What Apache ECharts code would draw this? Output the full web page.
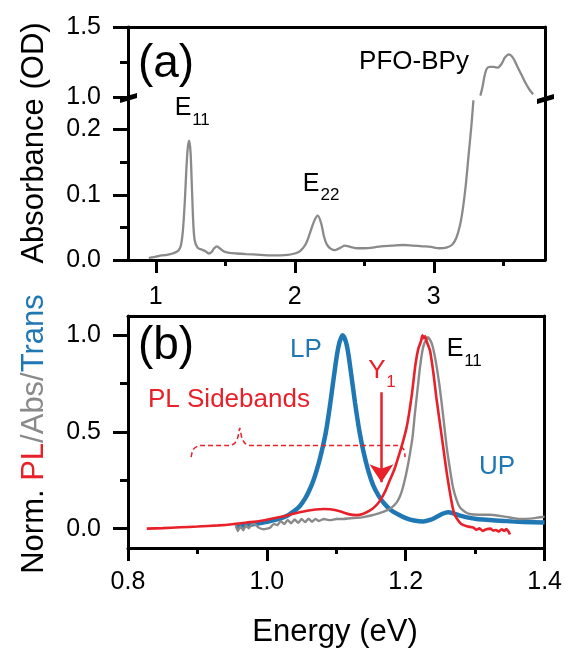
<!DOCTYPE html>
<html>
<head>
<meta charset="utf-8">
<script src="https://cdn.jsdelivr.net/npm/echarts@6/dist/echarts.min.js"></script>
<style>
  html, body { margin: 0; padding: 0; background: #fff; }
  #chart { width: 565px; height: 648px; }
</style>
</head>
<body>
<div id="chart"></div>
<script>
// ---------- Panel (a): absorbance of the film (broken y axis) ----------
const absEnergyLow = [0.95, 0.97, 1.00, 1.04, 1.08, 1.12, 1.16, 1.18, 1.195, 1.21, 1.22, 1.23, 1.24, 1.25, 1.26, 1.27, 1.28, 1.30, 1.33, 1.36, 1.38, 1.40, 1.42, 1.44, 1.46, 1.49, 1.53, 1.58, 1.65, 1.75, 1.85, 1.95, 2.00, 2.04, 2.08, 2.11, 2.14, 2.165, 2.19, 2.21, 2.23, 2.26, 2.29, 2.33, 2.36, 2.40, 2.45, 2.50, 2.56, 2.62, 2.70, 2.78, 2.85, 2.92, 2.98, 3.04, 3.09, 3.13, 3.16, 3.19, 3.21, 3.23, 3.25, 3.27, 3.285];
const absODLow = [0.003, 0.004, 0.005, 0.007, 0.008, 0.010, 0.014, 0.022, 0.045, 0.095, 0.140, 0.172, 0.183, 0.165, 0.110, 0.055, 0.030, 0.019, 0.016, 0.013, 0.010, 0.012, 0.018, 0.021, 0.018, 0.013, 0.011, 0.010, 0.009, 0.008, 0.007, 0.008, 0.010, 0.014, 0.025, 0.042, 0.060, 0.068, 0.056, 0.036, 0.024, 0.017, 0.015, 0.019, 0.022, 0.020, 0.018, 0.018, 0.019, 0.021, 0.022, 0.023, 0.022, 0.021, 0.020, 0.018, 0.019, 0.023, 0.033, 0.055, 0.080, 0.115, 0.160, 0.205, 0.245];
const absEnergyHigh = [3.335, 3.35, 3.365, 3.38, 3.40, 3.43, 3.46, 3.49, 3.51, 3.54, 3.57, 3.60, 3.63, 3.66, 3.69, 3.715];
const absODHigh = [1.01, 1.07, 1.15, 1.20, 1.215, 1.215, 1.21, 1.24, 1.28, 1.305, 1.28, 1.22, 1.16, 1.10, 1.05, 1.02];

const aXMajor = [1, 2, 3];
const aXMinor = [1.5, 2.5, 3.5];
const aYHighMajor = [1.0, 1.5];
const aYHighMinor = [1.25];
const aYLowMajor = [0, 0.1, 0.2];
const aYLowMinor = [0.05, 0.15];

// ---------- Panel (b): normalised PL / absorbance / transmission ----------
const transEnergy = [0.955, 0.970, 0.985, 1.000, 1.019, 1.030, 1.038, 1.047, 1.055, 1.062, 1.068, 1.074, 1.079, 1.085, 1.091, 1.097, 1.103, 1.109, 1.115, 1.121, 1.127, 1.133, 1.139, 1.146, 1.153, 1.161, 1.169, 1.178, 1.190, 1.201, 1.212, 1.225, 1.235, 1.244, 1.253, 1.261, 1.270, 1.280, 1.290, 1.302, 1.320, 1.345, 1.370, 1.400];
const transNorm = [0.008, 0.017, 0.026, 0.036, 0.052, 0.068, 0.088, 0.115, 0.155, 0.205, 0.26, 0.33, 0.40, 0.50, 0.64, 0.80, 0.94, 1.0, 0.95, 0.81, 0.65, 0.51, 0.40, 0.30, 0.225, 0.17, 0.13, 0.098, 0.072, 0.053, 0.042, 0.037, 0.045, 0.060, 0.077, 0.085, 0.078, 0.066, 0.057, 0.050, 0.045, 0.039, 0.035, 0.032];

const absEnergy = [0.955, 0.958, 0.962, 0.966, 0.970, 0.974, 0.978, 0.982, 0.986, 0.990, 0.995, 1.000, 1.005, 1.010, 1.015, 1.020, 1.025, 1.030, 1.035, 1.040, 1.045, 1.050, 1.055, 1.060, 1.065, 1.070, 1.075, 1.082, 1.091, 1.100, 1.110, 1.120, 1.130, 1.139, 1.150, 1.160, 1.172, 1.180, 1.187, 1.192, 1.196, 1.201, 1.206, 1.210, 1.213, 1.217, 1.220, 1.224, 1.227, 1.232, 1.236, 1.239, 1.244, 1.249, 1.254, 1.259, 1.264, 1.268, 1.273, 1.278, 1.285, 1.292, 1.305, 1.321, 1.335, 1.350, 1.364, 1.380, 1.393, 1.400];
const absNorm = [0.020, -0.012, 0.012, -0.008, 0.018, 0.002, 0.022, 0.024, 0.012, 0.002, -0.003, 0.000, 0.006, 0.025, 0.018, 0.040, 0.024, 0.045, 0.028, 0.048, 0.030, 0.050, 0.034, 0.052, 0.036, 0.050, 0.040, 0.050, 0.044, 0.050, 0.050, 0.054, 0.056, 0.060, 0.068, 0.078, 0.093, 0.110, 0.136, 0.170, 0.214, 0.290, 0.387, 0.480, 0.590, 0.720, 0.820, 0.920, 0.960, 0.990, 0.970, 0.940, 0.850, 0.730, 0.580, 0.420, 0.300, 0.214, 0.150, 0.110, 0.088, 0.076, 0.072, 0.072, 0.066, 0.058, 0.050, 0.052, 0.059, 0.062];

const plEnergy = [0.827, 0.850, 0.875, 0.900, 0.930, 0.950, 0.971, 0.990, 1.005, 1.019, 1.033, 1.047, 1.060, 1.070, 1.081, 1.091, 1.105, 1.119, 1.129, 1.138, 1.148, 1.156, 1.163, 1.170, 1.177, 1.184, 1.191, 1.196, 1.201, 1.205, 1.209, 1.214, 1.218, 1.222, 1.224, 1.226, 1.228, 1.230, 1.235, 1.240, 1.244, 1.249, 1.254, 1.259, 1.263, 1.267, 1.270, 1.275, 1.280, 1.288, 1.297, 1.302, 1.306, 1.311, 1.315, 1.322, 1.326, 1.330, 1.334, 1.338, 1.342, 1.345, 1.348, 1.350];
const plNorm = [0.000, 0.003, 0.007, 0.011, 0.017, 0.023, 0.032, 0.040, 0.050, 0.060, 0.072, 0.085, 0.094, 0.099, 0.102, 0.100, 0.090, 0.074, 0.070, 0.076, 0.093, 0.115, 0.145, 0.190, 0.250, 0.310, 0.390, 0.450, 0.520, 0.600, 0.700, 0.850, 0.930, 0.970, 1.000, 0.985, 0.995, 0.970, 0.920, 0.800, 0.680, 0.550, 0.420, 0.290, 0.200, 0.120, 0.076, 0.045, 0.024, 0.012, 0.006, -0.006, 0.002, -0.012, -0.004, 0.000, -0.010, -0.007, -0.015, -0.003, -0.012, -0.002, -0.015, -0.030];

const bXMajor = [0.8, 1.0, 1.2, 1.4];
const bXMinor = [0.9, 1.1, 1.3];
const bYMajor = [0, 0.5, 1.0];
const bYMinor = [0.25, 0.75];

// Y1 arrow (energy, from / to) and the dashed brace spanning the PL sidebands
const arrowEnergy = [1.165, 1.165];
const arrowNorm = [0.706, 0.24];
const braceEnergy = [0.891, 0.894, 0.904, 0.944, 0.953, 0.958, 0.961, 0.964, 0.969, 0.978, 1.188, 1.197, 1.199];
const braceNorm = [0.37, 0.41, 0.43, 0.43, 0.44, 0.47, 0.52, 0.47, 0.44, 0.43, 0.43, 0.41, 0.37];

// ---------- styling ----------
const FONT = "'Liberation Sans', Arial, Helvetica, sans-serif";
const BLUE = '#1f77b4';
const RED = '#e8202a';
const GRAY = '#8a8a8a';
const AXIS_W = 3;

const zip = (xs, ys) => xs.map((x, i) => [x, ys[i]]);

function lineOnly(extra) {
  return Object.assign({
    type: 'value',
    axisLine: { show: true, onZero: false, lineStyle: { color: '#000', width: AXIS_W } },
    axisTick: { show: false },
    axisLabel: { show: false },
    splitLine: { show: false }
  }, extra);
}
function majorAxis(extra, values, len, margin, fmt) {
  return Object.assign({
    type: 'value',
    axisLine: { show: true, onZero: false, lineStyle: { color: '#000', width: AXIS_W } },
    axisTick: { show: true, customValues: values, length: len, lineStyle: { color: '#000', width: AXIS_W } },
    axisLabel: { show: true, customValues: values, margin: margin, color: '#000', fontSize: 25, fontFamily: FONT, formatter: fmt },
    splitLine: { show: false }
  }, extra);
}
function minorAxis(extra, values, len) {
  return Object.assign({
    type: 'value',
    axisLine: { show: false, onZero: false },
    axisTick: { show: true, customValues: values, length: len, lineStyle: { color: '#000', width: AXIS_W } },
    axisLabel: { show: false },
    splitLine: { show: false }
  }, extra);
}

const fmtInt = v => String(Math.round(v));
const fmt1 = v => v.toFixed(1);

const grids = [
  { left: 128, width: 417, top: 27, height: 70 },   // (a) upper section 1.0 – 1.5
  { left: 128, width: 417, top: 97, height: 163 },  // (a) lower section 0 – 0.25
  { left: 128, width: 417, top: 316, height: 232 }  // (b)
];

const xAxes = [
  lineOnly({ gridIndex: 0, min: 0.8, max: 3.8, position: 'top' }),
  majorAxis({ gridIndex: 1, min: 0.8, max: 3.8, position: 'bottom' }, aXMajor, 13, 25, fmtInt),
  minorAxis({ gridIndex: 1, min: 0.8, max: 3.8, position: 'bottom' }, aXMinor, 6),
  majorAxis({ gridIndex: 2, min: 0.8, max: 1.4, position: 'bottom' }, bXMajor, 13, 22, fmt1),
  minorAxis({ gridIndex: 2, min: 0.8, max: 1.4, position: 'bottom' }, bXMinor, 6),
  lineOnly({ gridIndex: 2, min: 0.8, max: 1.4, position: 'top' })
];

const yAxes = [
  majorAxis({ gridIndex: 0, min: 1.0, max: 1.5, position: 'left' }, aYHighMajor, 15, 27, fmt1),
  minorAxis({ gridIndex: 0, min: 1.0, max: 1.5, position: 'left' }, aYHighMinor, 8),
  lineOnly({ gridIndex: 0, min: 1.0, max: 1.5, position: 'right' }),
  majorAxis({ gridIndex: 1, min: 0, max: 0.25, position: 'left' }, aYLowMajor, 15, 27, fmt1),
  minorAxis({ gridIndex: 1, min: 0, max: 0.25, position: 'left' }, aYLowMinor, 8),
  lineOnly({ gridIndex: 1, min: 0, max: 0.25, position: 'right' }),
  majorAxis({ gridIndex: 2, min: -0.1, max: 1.1, position: 'left' }, bYMajor, 15, 27, fmt1),
  minorAxis({ gridIndex: 2, min: -0.1, max: 1.1, position: 'left' }, bYMinor, 8),
  lineOnly({ gridIndex: 2, min: -0.1, max: 1.1, position: 'right' })
];

function curve(xi, yi, data, color, width, smooth, z) {
  return {
    type: 'line', xAxisIndex: xi, yAxisIndex: yi, data: data,
    showSymbol: false, symbol: 'none', smooth: smooth, clip: true, z: z,
    lineStyle: { color: color, width: width }
  };
}

const series = [
  curve(1, 3, zip(absEnergyLow, absODLow), GRAY, 2.3, 0.3, 2),
  curve(0, 0, zip(absEnergyHigh, absODHigh), GRAY, 2.3, 0.3, 2),
  curve(3, 6, zip(transEnergy, transNorm), BLUE, 4.5, 0.3, 2),
  curve(3, 6, zip(absEnergy, absNorm), GRAY, 2.4, 0.15, 3),
  curve(3, 6, zip(plEnergy, plNorm), RED, 2.6, 0.2, 4),
  {
    type: 'line', xAxisIndex: 3, yAxisIndex: 6, data: zip(braceEnergy, braceNorm),
    showSymbol: false, symbol: 'none', smooth: 0.3, z: 5,
    lineStyle: { color: RED, width: 1.5, type: [5, 3] }
  },
  {
    type: 'lines', coordinateSystem: 'cartesian2d', xAxisIndex: 3, yAxisIndex: 6, z: 6,
    symbol: ['none', 'arrow'], symbolSize: [14, 18],
    lineStyle: { color: RED, width: 2.5, opacity: 1 },
    data: [{ coords: zip(arrowEnergy, arrowNorm) }]
  }
];

function txt(x, y, text, size, color, align) {
  return {
    type: 'text', x: x, y: y, z: 100,
    style: { text: text, fontSize: size, fontFamily: FONT, fill: color || '#000',
             align: align || 'center', verticalAlign: 'middle' }
  };
}

const graphic = [
  // axis break marks
  { type: 'polygon', z: 100, shape: { points: [[120, 98], [137, 93], [137, 98], [120, 103]] }, style: { fill: '#000' } },
  { type: 'polygon', z: 100, shape: { points: [[537, 99], [554, 94], [554, 99], [537, 104]] }, style: { fill: '#000' } },
  // axis titles
  { type: 'text', x: 34, y: 143, rotation: Math.PI / 2, z: 100,
    style: { text: 'Absorbance (OD)', fontSize: 31, fontFamily: FONT, fill: '#000', align: 'center', verticalAlign: 'middle' } },
  { type: 'text', x: 34, y: 434, rotation: Math.PI / 2, z: 100,
    style: {
      text: '{k|Norm. }{r|PL}{g|/Abs/}{b|Trans}', align: 'center', verticalAlign: 'middle',
      fontSize: 31, fontFamily: FONT,
      rich: {
        k: { fill: '#000', fontSize: 31, fontFamily: FONT },
        r: { fill: RED, fontSize: 31, fontFamily: FONT },
        g: { fill: GRAY, fontSize: 31, fontFamily: FONT },
        b: { fill: BLUE, fontSize: 31, fontFamily: FONT }
      }
    } },
  txt(335, 632, 'Energy (eV)', 31),
  // panel (a) annotations
  txt(166, 64, '(a)', 46),
  txt(183, 108, 'E', 25),
  txt(201, 120, '11', 17),
  txt(311, 184, 'E', 25),
  txt(330, 195, '22', 17),
  txt(414, 62, 'PFO-BPy', 26),
  // panel (b) annotations
  txt(166, 346, '(b)', 46),
  txt(306, 350, 'LP', 26, BLUE),
  txt(455, 349, 'E', 25),
  txt(473, 361, '11', 17),
  txt(377, 371, 'Y', 26, RED),
  txt(391, 382, '1', 17, RED),
  txt(148, 400, 'PL Sidebands', 26, RED, 'left'),
  txt(497, 467, 'UP', 26, BLUE)
];

const chart = echarts.init(document.getElementById('chart'), null, { renderer: 'canvas' });
chart.setOption({
  animation: false,
  backgroundColor: '#fff',
  grid: grids,
  xAxis: xAxes,
  yAxis: yAxes,
  series: series,
  graphic: graphic
});
</script>
</body>
</html>
